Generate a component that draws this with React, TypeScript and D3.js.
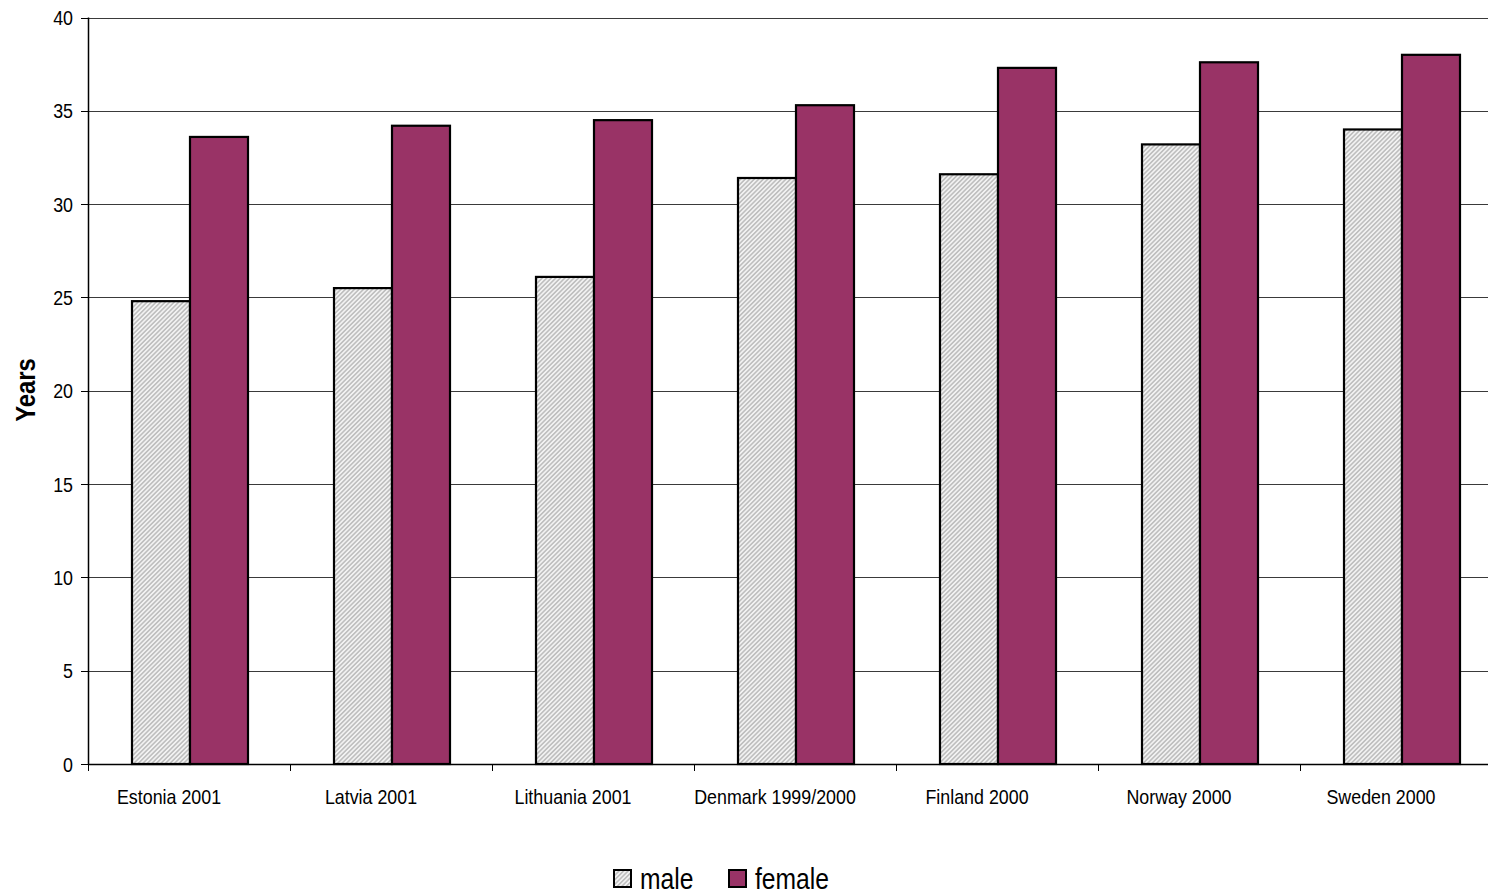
import React, { useEffect, useRef } from 'react';
import * as d3 from 'd3';

const categories = ['Estonia 2001', 'Latvia 2001', 'Lithuania 2001', 'Denmark 1999/2000', 'Finland 2000', 'Norway 2000', 'Sweden 2000'];
const maleValues = [24.8, 25.5, 26.1, 31.4, 31.6, 33.2, 34.0];
const femaleValues = [33.6, 34.2, 34.5, 35.3, 37.3, 37.6, 38.0];
const yTicks = [0, 5, 10, 15, 20, 25, 30, 35, 40];
const seriesNames = ['male', 'female'];

const FONT = '"Liberation Sans", Arial, sans-serif';
const NARROW = 0.85;

const App: React.FC = () => {
  const ref = useRef<SVGSVGElement>(null);

  useEffect(() => {
    if (!ref.current) return;
    const svg = d3.select(ref.current);
    svg.selectAll('*').remove();

    const left = 88;
    const top = 17.5;
    const bottom = 764;
    const band = 202;
    const right = left + band * categories.length;

    const x = d3.scaleBand().domain(categories).range([left, right]).paddingInner(0).paddingOuter(0);
    const y = d3.scaleLinear().domain([0, 40]).range([bottom, top]);

    // hatch for male bars
    const defs = svg.append('defs');
    const pat = defs.append('pattern')
      .attr('id', 'hatch')
      .attr('patternUnits', 'userSpaceOnUse')
      .attr('width', 3.2)
      .attr('height', 3.2)
      .attr('patternTransform', 'rotate(45)');
    pat.append('rect').attr('width', 3.2).attr('height', 3.2).attr('fill', '#f2f2f2');
    pat.append('line').attr('x1', 0.8).attr('y1', 0).attr('x2', 0.8).attr('y2', 3.2)
      .attr('stroke', '#a8a8a8').attr('stroke-width', 1.1);

    // gridlines
    svg.append('g').selectAll('line').data(yTicks.filter(t => t > 0)).enter().append('line')
      .attr('x1', left).attr('x2', 1488)
      .attr('y1', d => Math.round(y(d)) + 0.5).attr('y2', d => Math.round(y(d)) + 0.5)
      .attr('stroke', '#3a3a3a').attr('stroke-width', 1);

    // y ticks and labels
    const yg = svg.append('g');
    yg.selectAll('line').data(yTicks).enter().append('line')
      .attr('x1', left - 7).attr('x2', left)
      .attr('y1', d => Math.round(y(d)) + 0.5).attr('y2', d => Math.round(y(d)) + 0.5)
      .attr('stroke', '#000');
    yg.selectAll('text').data(yTicks).enter().append('text')
      .attr('transform', d => `translate(73,${y(d) + 7.5}) scale(${NARROW},1)`)
      .attr('text-anchor', 'end')
      .attr('font-family', FONT)
      .attr('font-size', 21)
      .attr('fill', '#000')
      .text(d => d);

    // axis label
    svg.append('text')
      .attr('transform', `translate(35,390) rotate(-90) scale(${NARROW},1)`)
      .attr('text-anchor', 'middle')
      .attr('font-family', FONT)
      .attr('font-weight', 'bold')
      .attr('font-size', 28)
      .text('Years');

    // bars
    const barW = 58;
    const offset = 44;
    const bars = svg.append('g');
    categories.forEach((c, i) => {
      const x0 = (x(c) as number) + offset;
      bars.append('rect')
        .attr('x', x0).attr('y', y(maleValues[i]))
        .attr('width', barW).attr('height', y(0) - y(maleValues[i]))
        .attr('fill', 'url(#hatch)').attr('stroke', '#000').attr('stroke-width', 2.2);
      bars.append('rect')
        .attr('x', x0 + barW).attr('y', y(femaleValues[i]))
        .attr('width', barW).attr('height', y(0) - y(femaleValues[i]))
        .attr('fill', '#993366').attr('stroke', '#000').attr('stroke-width', 2.2);
    });

    // axes lines
    svg.append('line').attr('x1', left + 0.5).attr('x2', left + 0.5).attr('y1', top).attr('y2', bottom)
      .attr('stroke', '#000').attr('stroke-width', 1.5);
    svg.append('line').attr('x1', left).attr('x2', 1488).attr('y1', bottom + 0.5).attr('y2', bottom + 0.5)
      .attr('stroke', '#000').attr('stroke-width', 1.5);

    // x ticks
    const xt = d3.range(categories.length + 1).map(i => left + i * x.bandwidth());
    svg.append('g').selectAll('line').data(xt).enter().append('line')
      .attr('x1', d => d + 0.5).attr('x2', d => d + 0.5)
      .attr('y1', bottom).attr('y2', bottom + 7)
      .attr('stroke', '#000');

    // category labels
    svg.append('g').selectAll('text').data(categories).enter().append('text')
      .attr('transform', d => `translate(${(x(d) as number) + x.bandwidth() / 2 - 20},804) scale(${NARROW},1)`)
      .attr('text-anchor', 'middle')
      .attr('font-family', FONT)
      .attr('font-size', 21)
      .text(d => d);

    // legend
    const legend = svg.append('g');
    const legendX = [614, 729];
    seriesNames.forEach((name, i) => {
      legend.append('rect')
        .attr('x', legendX[i]).attr('y', 870)
        .attr('width', 17).attr('height', 17)
        .attr('fill', i === 0 ? 'url(#hatch)' : '#993366')
        .attr('stroke', '#000').attr('stroke-width', 2);
      legend.append('text')
        .attr('transform', `translate(${legendX[i] + 26},889) scale(${NARROW},1)`)
        .attr('font-family', FONT)
        .attr('font-size', 29)
        .text(name);
    });
  }, []);

  return (
    <svg
      ref={ref}
      width={1488}
      height={896}
      style={{ position: 'fixed', left: 0, top: 0, background: '#fff' }}
    />
  );
};

export default App;
